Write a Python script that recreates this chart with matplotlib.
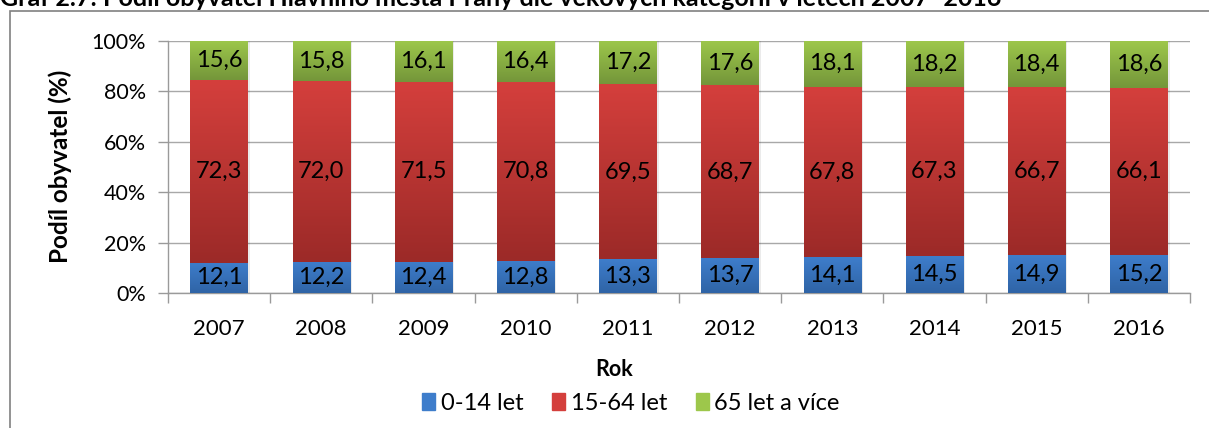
import matplotlib
matplotlib.use("Agg")
import matplotlib.pyplot as plt
import numpy as np
from matplotlib.patches import Rectangle
from matplotlib.colors import LinearSegmentedColormap

years = ["2007", "2008", "2009", "2010", "2011", "2012", "2013", "2014", "2015", "2016"]
age_0_14 = [12.1, 12.2, 12.4, 12.8, 13.3, 13.7, 14.1, 14.5, 14.9, 15.2]
age_15_64 = [72.3, 72.0, 71.5, 70.8, 69.5, 68.7, 67.8, 67.3, 66.7, 66.1]
age_65 = [15.6, 15.8, 16.1, 16.4, 17.2, 17.6, 18.1, 18.2, 18.4, 18.6]
series_names = ["0-14 let", "15-64 let", "65 let a více"]
title = "Graf 2.7: Podíl obyvatel Hlavního města Prahy dle věkových kategorií v letech 2007–2016"

plt.rcParams['font.family'] = ['Lato', 'DejaVu Sans']

W, H = 1209, 428
fig = plt.figure(figsize=(W/100, H/100), dpi=100)
ax = fig.add_axes([168/W, 1-293/H, (1190-168)/W, (293-41)/H])

# gradient colours (top, bottom)
grads = [("#3E7DCB", "#2F64A6"), ("#D43F3C", "#9C2A28"), ("#9DC74B", "#74963A")]
flat = ["#3A75C0", "#C0393A", "#8DB543"]

x = np.arange(len(years))
data = [np.array(age_0_14), np.array(age_15_64), np.array(age_65)]
bottom = np.zeros(len(years))
width = 0.56
for k, vals in enumerate(data):
    bars = ax.bar(x, vals, width, bottom=bottom, color=flat[k], label=series_names[k],
                  zorder=3, linewidth=0)
    cmap = LinearSegmentedColormap.from_list("g%d" % k, [grads[k][1], grads[k][0]])
    for b in bars:
        x0, y0 = b.get_x(), b.get_y()
        w, h = b.get_width(), b.get_height()
        grad = np.linspace(0, 1, 64).reshape(-1, 1)
        im = ax.imshow(grad, extent=(x0, x0 + w, y0, y0 + h), origin='lower',
                       aspect='auto', cmap=cmap, zorder=3.5)
        im.set_clip_path(b)
        # soft shadow
        ax.add_patch(Rectangle((x0 + w, y0), 0.02, h, color="#000000", alpha=0.08,
                               zorder=2.9, linewidth=0))
    for i, b in enumerate(bars):
        ax.text(b.get_x() + b.get_width()/2, bottom[i] + vals[i]/2,
                ("%.1f" % vals[i]).replace(".", ","), ha='center', va='center',
                fontsize=17, color='black', zorder=5)
    bottom = bottom + vals

ax.set_xlim(-0.5, len(years) - 0.5)
ax.set_ylim(0, 100)
ax.set_yticks(np.arange(0, 101, 20))
ax.set_yticklabels(["%d%%" % v for v in range(0, 101, 20)], fontsize=15.5)
ax.set_xticks(x)
ax.set_xticklabels(years, fontsize=16)
ax.tick_params(axis='x', length=0, pad=19)
ax.set_xticks(np.arange(-0.5, len(years)), minor=True)
ax.tick_params(axis='x', which='minor', length=7, color='#9A9A9A', width=1)
ax.tick_params(axis='y', length=7, color='#9A9A9A', width=1, pad=9)
ax.grid(axis='y', color='#A8A8A8', linewidth=1, zorder=0)
ax.set_axisbelow(True)
for s in ['top', 'right']:
    ax.spines[s].set_visible(False)
for s in ['left', 'bottom']:
    ax.spines[s].set_color('#9A9A9A')
    ax.spines[s].set_linewidth(1)

fig.text(60/W, 1-166.5/H, "Podíl obyvatel (%)", rotation=90, ha='center', va='center',
         fontsize=17.5, fontweight='bold')
fig.text(614/W, 1-369/H, "Rok", ha='center', va='center', fontsize=15.5, fontweight='bold')

handles = [Rectangle((0, 0), 1, 1, color=grads[k][0]) for k in range(3)]
leg = fig.legend(handles, series_names, loc='center', bbox_to_anchor=(631/W, 1-403/H),
                 ncol=3, frameon=False, fontsize=17, handlelength=0.55, handleheight=0.7,
                 handletextpad=0.25, columnspacing=1.2)

# outer chart frame
fig.patches.append(Rectangle((10/W, -0.05), 1.2, 1-11/H + 0.05, transform=fig.transFigure,
                             fill=False, edgecolor='#808080', linewidth=1.2))
fig.text(0/W, 1-6.5/H, title, ha='left', va='baseline', fontsize=18, fontweight='bold')

fig.savefig("out.png", dpi=100)
